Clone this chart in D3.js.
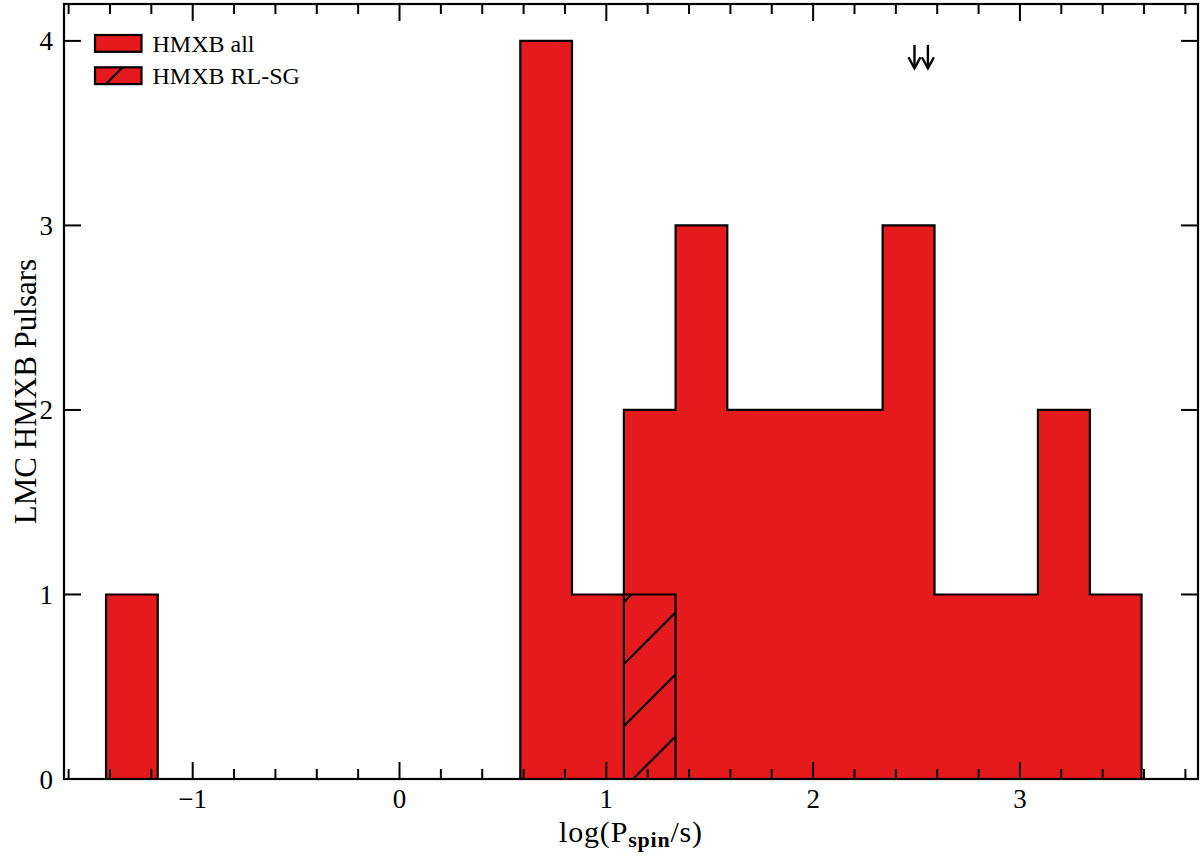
<!DOCTYPE html>
<html>
<head>
<meta charset="utf-8">
<script src="https://cdn.jsdelivr.net/npm/d3@7"></script>
<style>
  html, body { margin: 0; padding: 0; background: #fff; }
  svg { display: block; }
  text { font-family: "Liberation Serif", "Times New Roman", serif; fill: #000; }
</style>
</head>
<body>
<svg id="chart" width="1200" height="857"></svg>
<script>
// ---- data ----
const binEdges = [-1.419, -1.169, -0.918, -0.668, -0.418, -0.167, 0.083, 0.334, 0.584, 0.834,
                  1.085, 1.335, 1.585, 1.836, 2.086, 2.336, 2.587, 2.837, 3.087, 3.338, 3.588];
const countsAll   = [1, 0, 0, 0, 0, 0, 0, 0, 4, 1, 2, 3, 2, 2, 2, 3, 1, 1, 2, 1];
const countsRLSG  = [0, 0, 0, 0, 0, 0, 0, 0, 0, 0, 1, 0, 0, 0, 0, 0, 0, 0, 0, 0];
const xMajorTicks = [-1, 0, 1, 2, 3];
const xMinorTicks = [-1.6, -1.4, -1.2, -0.8, -0.6, -0.4, -0.2, 0.2, 0.4, 0.6, 0.8,
                     1.2, 1.4, 1.6, 1.8, 2.2, 2.4, 2.6, 2.8, 3.2, 3.4, 3.6, 3.8];
const yTicks = [0, 1, 2, 3, 4];
const arrowX = [2.49, 2.555];
const arrowTop = 3.978;
const arrowTip = 3.852;
const legendLabels = ["HMXB all", "HMXB RL-SG"];

(function () {
// ---- layout ----
const svg = d3.select("#chart");
const pL = 64, pR = 1198, pT = 4, pB = 779;
const red = "#E41A1C";

const x = d3.scaleLinear().domain([-1.6223, 3.861]).range([pL, pR]);
const y = d3.scaleLinear().domain([0, 4.2]).range([pB, pT]);

// hatch patterns
const defs = svg.append("defs");
function hatch(id, phase) {
  const p = defs.append("pattern").attr("id", id)
    .attr("patternUnits", "userSpaceOnUse").attr("width", 62).attr("height", 62);
  p.append("rect").attr("width", 62).attr("height", 62).attr("fill", red);
  [phase - 62, phase, phase + 62].forEach(c => {
    p.append("line").attr("x1", -5).attr("y1", c + 5).attr("x2", c + 5).attr("y2", -5)
      .attr("stroke", "#000").attr("stroke-width", 2.2);
  });
}
hatch("hatchBar", 48);
hatch("hatchLegend", 4);

function stepPath(counts) {
  const p = d3.path();
  p.moveTo(x(binEdges[0]), y(0));
  counts.forEach((c, i) => {
    p.lineTo(x(binEdges[i]), y(c));
    p.lineTo(x(binEdges[i + 1]), y(c));
  });
  p.lineTo(x(binEdges[binEdges.length - 1]), y(0));
  p.closePath();
  return p.toString();
}

svg.append("path").attr("d", stepPath(countsAll))
  .attr("fill", red).attr("stroke", "#000").attr("stroke-width", 2.2)
  .attr("stroke-linejoin", "miter");
svg.append("path").attr("d", stepPath(countsRLSG))
  .attr("fill", "url(#hatchBar)").attr("stroke", "#000").attr("stroke-width", 2.2)
  .attr("stroke-linejoin", "miter");

// arrows
arrowX.forEach(v => {
  const cx = x(v), y0 = y(arrowTop), y1 = y(arrowTip);
  svg.append("line").attr("x1", cx).attr("x2", cx).attr("y1", y0).attr("y2", y1 - 1)
    .attr("stroke", "#000").attr("stroke-width", 2.4);
  svg.append("path").attr("d", `M${cx - 6},${y1 - 11} L${cx},${y1} L${cx + 6},${y1 - 11}`)
    .attr("fill", "none").attr("stroke", "#000").attr("stroke-width", 2.4);
});

// frame
svg.append("rect").attr("x", pL).attr("y", pT).attr("width", pR - pL).attr("height", pB - pT)
  .attr("fill", "none").attr("stroke", "#000").attr("stroke-width", 2.2);

// ticks (inward, all sides)
const tk = svg.append("g").attr("stroke", "#000").attr("stroke-width", 2);
xMajorTicks.forEach(v => {
  tk.append("line").attr("x1", x(v)).attr("x2", x(v)).attr("y1", pB).attr("y2", pB - 17);
  tk.append("line").attr("x1", x(v)).attr("x2", x(v)).attr("y1", pT).attr("y2", pT + 17);
});
xMinorTicks.forEach(v => {
  tk.append("line").attr("x1", x(v)).attr("x2", x(v)).attr("y1", pB).attr("y2", pB - 10);
  tk.append("line").attr("x1", x(v)).attr("x2", x(v)).attr("y1", pT).attr("y2", pT + 10);
});
yTicks.forEach(v => {
  tk.append("line").attr("x1", pL).attr("x2", pL + 17).attr("y1", y(v)).attr("y2", y(v));
  tk.append("line").attr("x1", pR).attr("x2", pR - 17).attr("y1", y(v)).attr("y2", y(v));
});

// tick labels
const fmt = v => (v < 0 ? "\u2212" + Math.abs(v) : String(v));
xMajorTicks.forEach(v => {
  svg.append("text").attr("x", x(v)).attr("y", 808).attr("text-anchor", "middle")
    .attr("font-size", 27).text(fmt(v));
});
yTicks.forEach(v => {
  svg.append("text").attr("x", 53).attr("y", y(v) + 9.5).attr("text-anchor", "end")
    .attr("font-size", 27).text(fmt(v));
});

// axis labels
const xl = svg.append("text").attr("x", (pL + pR) / 2).attr("y", 842)
  .attr("text-anchor", "middle").attr("font-size", 30).attr("letter-spacing", 0.8);
xl.append("tspan").text("log(P");
xl.append("tspan").attr("font-weight", "bold").attr("font-size", 22).attr("dy", 5).text("spin");
xl.append("tspan").attr("dy", -5).text("/s)");

svg.append("text").attr("transform", `translate(36,${(pT + pB) / 2}) rotate(-90)`)
  .attr("text-anchor", "middle").attr("font-size", 31).text("LMC HMXB Pulsars");

// legend
const lg = svg.append("g");
[{ fill: red, lab: legendLabels[0], y0: 35 }, { fill: "url(#hatchLegend)", lab: legendLabels[1], y0: 67.3 }]
  .forEach(d => {
    lg.append("rect").attr("x", 95).attr("y", d.y0).attr("width", 46.5).attr("height", 16.8)
      .attr("fill", d.fill).attr("stroke", "#000").attr("stroke-width", 2.2);
    lg.append("text").attr("x", 152.5).attr("y", d.y0 + 17).attr("font-size", 24).text(d.lab);
  });
})();
</script>
</body>
</html>
